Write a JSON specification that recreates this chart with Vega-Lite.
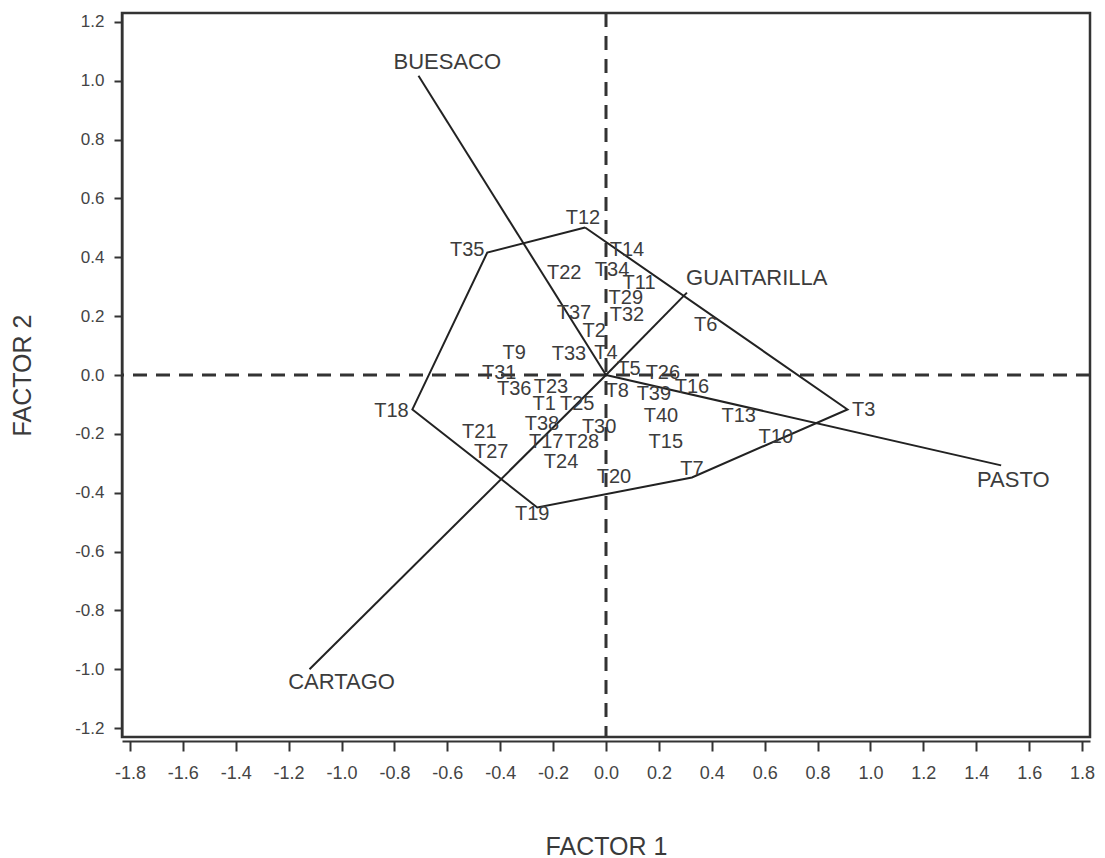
{
  "$schema": "https://vega.github.io/schema/vega-lite/v6.json",
  "width": 968,
  "height": 724,
  "autosize": "none",
  "padding": {"left": 122, "top": 13, "right": 15, "bottom": 121},
  "background": "white",
  "config": {
    "view": {"stroke": "#333", "strokeWidth": 2.5},
    "axis": {
      "grid": false,
      "domainColor": "#333",
      "domainWidth": 2,
      "tickColor": "#333",
      "tickWidth": 2,
      "tickSize": 8,
      "labelFont": "Liberation Sans",
      "labelFontSize": 17,
      "labelColor": "#444",
      "titleFont": "Liberation Sans",
      "titleFontSize": 25,
      "titleFontWeight": "normal",
      "titleColor": "#3a3a3a"
    },
    "text": {"font": "Liberation Sans", "fontSize": 20, "fill": "#3c3c3c"}
  },
  "datasets": {
    "treatments": [
      {"t": "T1", "f1": -0.234, "f2": -0.100},
      {"t": "T2", "f1": -0.045, "f2": 0.148},
      {"t": "T3", "f1": 0.974, "f2": -0.120},
      {"t": "T4", "f1": 0.000, "f2": 0.076},
      {"t": "T5", "f1": 0.087, "f2": 0.022},
      {"t": "T6", "f1": 0.377, "f2": 0.171},
      {"t": "T7", "f1": 0.325, "f2": -0.321},
      {"t": "T8", "f1": 0.042, "f2": -0.056},
      {"t": "T9", "f1": -0.347, "f2": 0.076},
      {"t": "T10", "f1": 0.642, "f2": -0.212},
      {"t": "T11", "f1": 0.125, "f2": 0.311},
      {"t": "T12", "f1": -0.087, "f2": 0.535},
      {"t": "T13", "f1": 0.502, "f2": -0.141},
      {"t": "T14", "f1": 0.079, "f2": 0.426},
      {"t": "T15", "f1": 0.226, "f2": -0.226},
      {"t": "T16", "f1": 0.325, "f2": -0.042},
      {"t": "T17", "f1": -0.226, "f2": -0.229},
      {"t": "T18", "f1": -0.811, "f2": -0.124},
      {"t": "T19", "f1": -0.279, "f2": -0.473},
      {"t": "T20", "f1": 0.030, "f2": -0.345},
      {"t": "T21", "f1": -0.479, "f2": -0.192},
      {"t": "T22", "f1": -0.158, "f2": 0.348},
      {"t": "T23", "f1": -0.208, "f2": -0.042},
      {"t": "T24", "f1": -0.170, "f2": -0.294},
      {"t": "T25", "f1": -0.109, "f2": -0.100},
      {"t": "T26", "f1": 0.215, "f2": 0.008},
      {"t": "T27", "f1": -0.434, "f2": -0.260},
      {"t": "T28", "f1": -0.091, "f2": -0.229},
      {"t": "T29", "f1": 0.075, "f2": 0.263},
      {"t": "T30", "f1": -0.026, "f2": -0.175},
      {"t": "T31", "f1": -0.404, "f2": 0.008},
      {"t": "T32", "f1": 0.079, "f2": 0.205},
      {"t": "T33", "f1": -0.140, "f2": 0.070},
      {"t": "T34", "f1": 0.023, "f2": 0.358},
      {"t": "T35", "f1": -0.525, "f2": 0.426},
      {"t": "T36", "f1": -0.347, "f2": -0.049},
      {"t": "T37", "f1": -0.121, "f2": 0.212},
      {"t": "T38", "f1": -0.242, "f2": -0.168},
      {"t": "T39", "f1": 0.181, "f2": -0.066},
      {"t": "T40", "f1": 0.208, "f2": -0.141}
    ],
    "hull": [
      {"ord": 1, "f1": -0.079, "f2": 0.501},
      {"ord": 2, "f1": 0.913, "f2": -0.117},
      {"ord": 3, "f1": 0.325, "f2": -0.348},
      {"ord": 4, "f1": -0.260, "f2": -0.450},
      {"ord": 5, "f1": -0.732, "f2": -0.117},
      {"ord": 6, "f1": -0.449, "f2": 0.416},
      {"ord": 7, "f1": -0.079, "f2": 0.501}
    ],
    "environments": [
      {"env": "BUESACO", "o1": 0, "o2": 0, "f1": -0.709, "f2": 1.017, "lx": -0.600, "ly": 1.064},
      {"env": "CARTAGO", "o1": 0, "o2": 0, "f1": -1.121, "f2": -1.000, "lx": -1.000, "ly": -1.044},
      {"env": "PASTO", "o1": 0, "o2": 0, "f1": 1.494, "f2": -0.307, "lx": 1.540, "ly": -0.358},
      {"env": "GUAITARILLA", "o1": 0, "o2": 0, "f1": 0.306, "f2": 0.280, "lx": 0.570, "ly": 0.331}
    ],
    "origin": [{"o1": 0, "o2": 0}]
  },
  "encoding": {
    "x": {
      "field": "f1", "type": "quantitative",
      "scale": {"domain": [-1.83, 1.83], "nice": false, "zero": false},
      "axis": {
        "title": "FACTOR 1",
        "values": [-1.8, -1.6, -1.4, -1.2, -1.0, -0.8, -0.6, -0.4, -0.2, 0, 0.2, 0.4, 0.6, 0.8, 1.0, 1.2, 1.4, 1.6, 1.8],
        "labelExpr": "replace(format(datum.value, '.1f'), '\u2212', '-')",
        "labelFont": "'Liberation Sans Narrow', 'Liberation Sans'",
        "labelFontSize": 18,
        "offset": 4,
        "tickSize": 10,
        "labelPadding": 13,
        "titleX": 484,
        "titleY": 105,
        "titleBaseline": "middle"
      }
    },
    "y": {
      "field": "f2", "type": "quantitative",
      "scale": {"domain": [-1.23, 1.23], "nice": false, "zero": false},
      "axis": {
        "title": "FACTOR 2",
        "values": [-1.2, -1.0, -0.8, -0.6, -0.4, -0.2, 0, 0.2, 0.4, 0.6, 0.8, 1.0, 1.2],
        "labelExpr": "replace(format(datum.value, '.1f'), '\u2212', '-')",
        "labelPadding": 10,
        "titleX": -100,
        "titleY": 362,
        "titleAngle": -90,
        "titleBaseline": "middle"
      }
    }
  },
  "layer": [
    {
      "data": {"name": "origin"},
      "mark": {"type": "rule", "strokeDash": [14, 9], "strokeWidth": 3, "color": "#333"},
      "encoding": {
        "x": {"field": "o1", "type": "quantitative"},
        "y": null
      }
    },
    {
      "data": {"name": "origin"},
      "mark": {"type": "rule", "strokeDash": [14, 9], "strokeWidth": 3, "color": "#333"},
      "encoding": {
        "y": {"field": "o2", "type": "quantitative"},
        "x": null
      }
    },
    {
      "data": {"name": "environments"},
      "mark": {"type": "rule", "strokeWidth": 2, "color": "#222"},
      "encoding": {
        "x": {"field": "o1", "type": "quantitative"},
        "y": {"field": "o2", "type": "quantitative"},
        "x2": {"field": "f1"},
        "y2": {"field": "f2"}
      }
    },
    {
      "data": {"name": "hull"},
      "mark": {"type": "line", "strokeWidth": 2, "color": "#222"},
      "encoding": {
        "order": {"field": "ord", "type": "quantitative"}
      }
    },
    {
      "data": {"name": "treatments"},
      "mark": {"type": "text", "align": "center", "baseline": "middle"},
      "encoding": {
        "text": {"field": "t", "type": "nominal"}
      }
    },
    {
      "data": {"name": "environments"},
      "mark": {"type": "text", "align": "center", "baseline": "middle", "fontSize": 22},
      "encoding": {
        "x": {"field": "lx", "type": "quantitative"},
        "y": {"field": "ly", "type": "quantitative"},
        "text": {"field": "env", "type": "nominal"}
      }
    }
  ]
}
